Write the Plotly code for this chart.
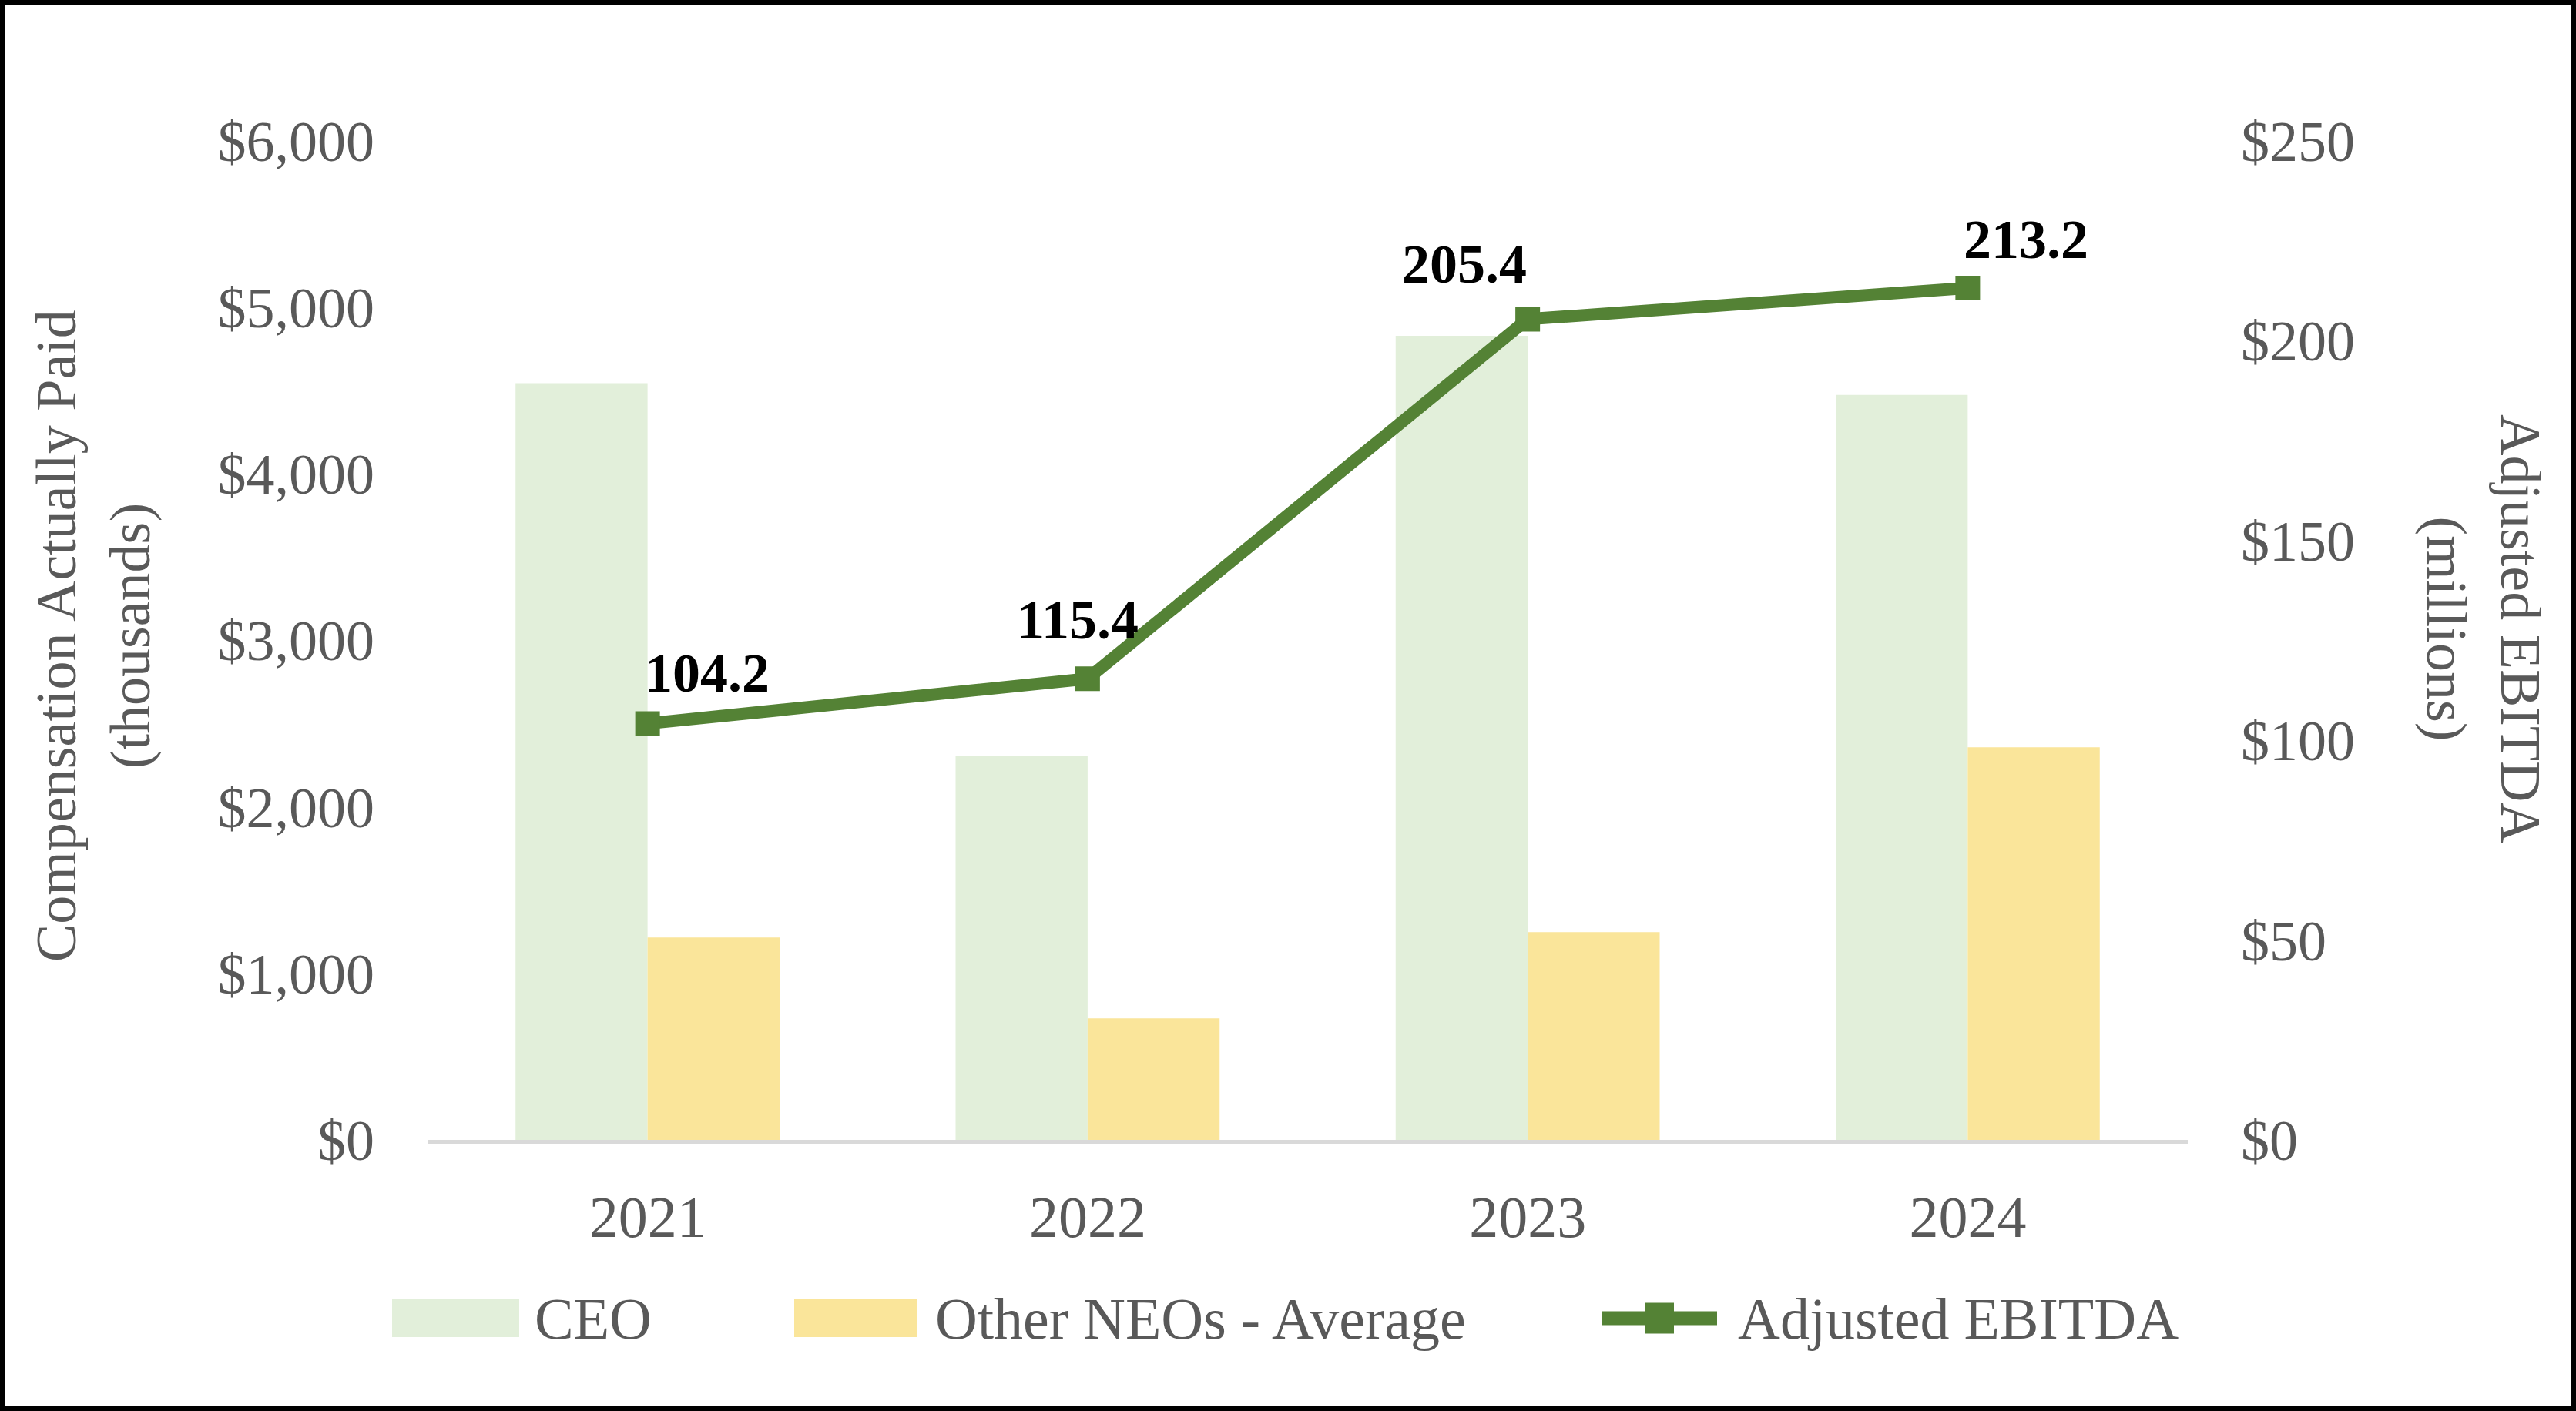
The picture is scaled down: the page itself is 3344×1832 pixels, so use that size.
import plotly.graph_objects as go

# ---- data ----
years = ["2021", "2022", "2023", "2024"]
ceo_cap = [4545, 2307, 4830, 4475]          # $ thousands
neo_avg_cap = [1215, 730, 1248, 2358]       # $ thousands
adj_ebitda = [104.2, 115.4, 205.4, 213.2]   # $ millions
left_ticks = [0, 1000, 2000, 3000, 4000, 5000, 6000]
left_tick_text = ["$0", "$1,000", "$2,000", "$3,000", "$4,000", "$5,000", "$6,000"]
right_ticks = [0, 50, 100, 150, 200, 250]
right_tick_text = ["$0", "$50", "$100", "$150", "$200", "$250"]

# ---- styles ----
W, H = 3344, 1832
ML, MR, MT, MB = 555, 504, 183, 352
PW, PH = W - ML - MR, H - MT - MB
FONT = "Times New Roman, Liberation Serif, serif"
GREY_TXT = "#595959"
C_CEO = "#E2EFDA"
C_NEO = "#FAE59A"
C_LINE = "#548235"
label_shift = [(77, 65), (-13, 76), (-82, 71), (76, 63)]

xpos = list(range(len(years)))


def px(x):
    return (x - ML) / PW


def py(y):
    return (H - MB - y) / PH


fig = go.Figure()
fig.add_trace(go.Bar(x=xpos, y=ceo_cap, name="CEO", marker_color=C_CEO,
                     marker_line_width=0, showlegend=False))
fig.add_trace(go.Bar(x=xpos, y=neo_avg_cap, name="Other NEOs - Average",
                     marker_color=C_NEO, marker_line_width=0, showlegend=False))
fig.add_trace(go.Scatter(x=xpos, y=adj_ebitda, name="Adjusted EBITDA", yaxis="y2",
                         mode="lines+markers", line=dict(color=C_LINE, width=16),
                         marker=dict(symbol="square", size=32, color=C_LINE),
                         showlegend=False))

annotations = []
for xi, v, (dx, dy) in zip(xpos, adj_ebitda, label_shift):
    annotations.append(dict(x=xi, y=v, xref="x", yref="y2", text=f"<b>{v:.1f}</b>",
                            showarrow=False, xshift=dx, yshift=dy,
                            font=dict(family=FONT, size=72, color="black")))

# axis titles
annotations.append(dict(x=px(121), y=py(826), xref="paper", yref="paper",
                        text="Compensation Actually Paid<br>(thousands)", textangle=-90,
                        showarrow=False, xanchor="center", yanchor="middle",
                        font=dict(family=FONT, size=74, color=GREY_TXT)))
annotations.append(dict(x=px(3224), y=py(816), xref="paper", yref="paper",
                        text="Adjusted EBITDA<br>(millions)", textangle=90,
                        showarrow=False, xanchor="center", yanchor="middle",
                        font=dict(family=FONT, size=74, color=GREY_TXT)))

# custom legend
shapes = []
leg_y0, leg_y1 = 1687, 1736
leg_mid = (leg_y0 + leg_y1) / 2
shapes.append(dict(type="rect", xref="paper", yref="paper", x0=px(509), x1=px(674),
                   y0=py(leg_y1), y1=py(leg_y0), fillcolor=C_CEO, line_width=0))
shapes.append(dict(type="rect", xref="paper", yref="paper", x0=px(1031), x1=px(1190),
                   y0=py(leg_y1), y1=py(leg_y0), fillcolor=C_NEO, line_width=0))
shapes.append(dict(type="line", xref="paper", yref="paper", x0=px(2080), x1=px(2229),
                   y0=py(leg_mid), y1=py(leg_mid), line=dict(color=C_LINE, width=18)))
shapes.append(dict(type="rect", xref="paper", yref="paper", x0=px(2135), x1=px(2173),
                   y0=py(leg_mid + 20), y1=py(leg_mid - 20), fillcolor=C_LINE, line_width=0))
# outer border
shapes.append(dict(type="rect", xref="paper", yref="paper", x0=px(0), x1=px(W),
                   y0=py(H), y1=py(0), line=dict(color="black", width=14),
                   fillcolor="rgba(0,0,0,0)", layer="above"))

for x0, txt in [(692, "CEO"), (1212, "Other NEOs - Average"), (2254, "Adjusted EBITDA")]:
    annotations.append(dict(x=px(x0), y=py(leg_mid), xref="paper", yref="paper", text=txt,
                            showarrow=False, xanchor="left", yanchor="middle",
                            font=dict(family=FONT, size=76, color=GREY_TXT)))

fig.update_layout(
    width=W, height=H,
    margin=dict(l=ML, r=MR, t=MT, b=MB, pad=0),
    paper_bgcolor="white", plot_bgcolor="white",
    barmode="group", bargap=0.40, bargroupgap=0,
    font=dict(family=FONT, size=74, color=GREY_TXT),
    showlegend=False,
    xaxis=dict(range=[-0.5, len(years) - 0.5], tickmode="array", tickvals=xpos,
               ticktext=years, showline=True, linecolor="#D9D9D9", linewidth=5,
               showgrid=False, ticks="", tickfont=dict(family=FONT, size=76, color=GREY_TXT),
               ticklabelstandoff=30, zeroline=False, fixedrange=True),
    yaxis=dict(range=[0, 6000], tickmode="array", tickvals=left_ticks,
               ticktext=left_tick_text,
               showgrid=False, zeroline=False, showline=False, ticks="",
               tickfont=dict(family=FONT, size=74, color=GREY_TXT), ticklabelstandoff=68),
    yaxis2=dict(range=[0, 250], tickmode="array", tickvals=right_ticks,
                ticktext=right_tick_text,
                overlaying="y", side="right", showgrid=False, zeroline=False,
                showline=False, ticks="",
                tickfont=dict(family=FONT, size=74, color=GREY_TXT), ticklabelstandoff=68),
    annotations=annotations,
    shapes=shapes,
)

fig.write_html("out.html", config={"displayModeBar": False},
               post_script="document.body.style.margin='0';document.body.style.overflow='hidden';")
